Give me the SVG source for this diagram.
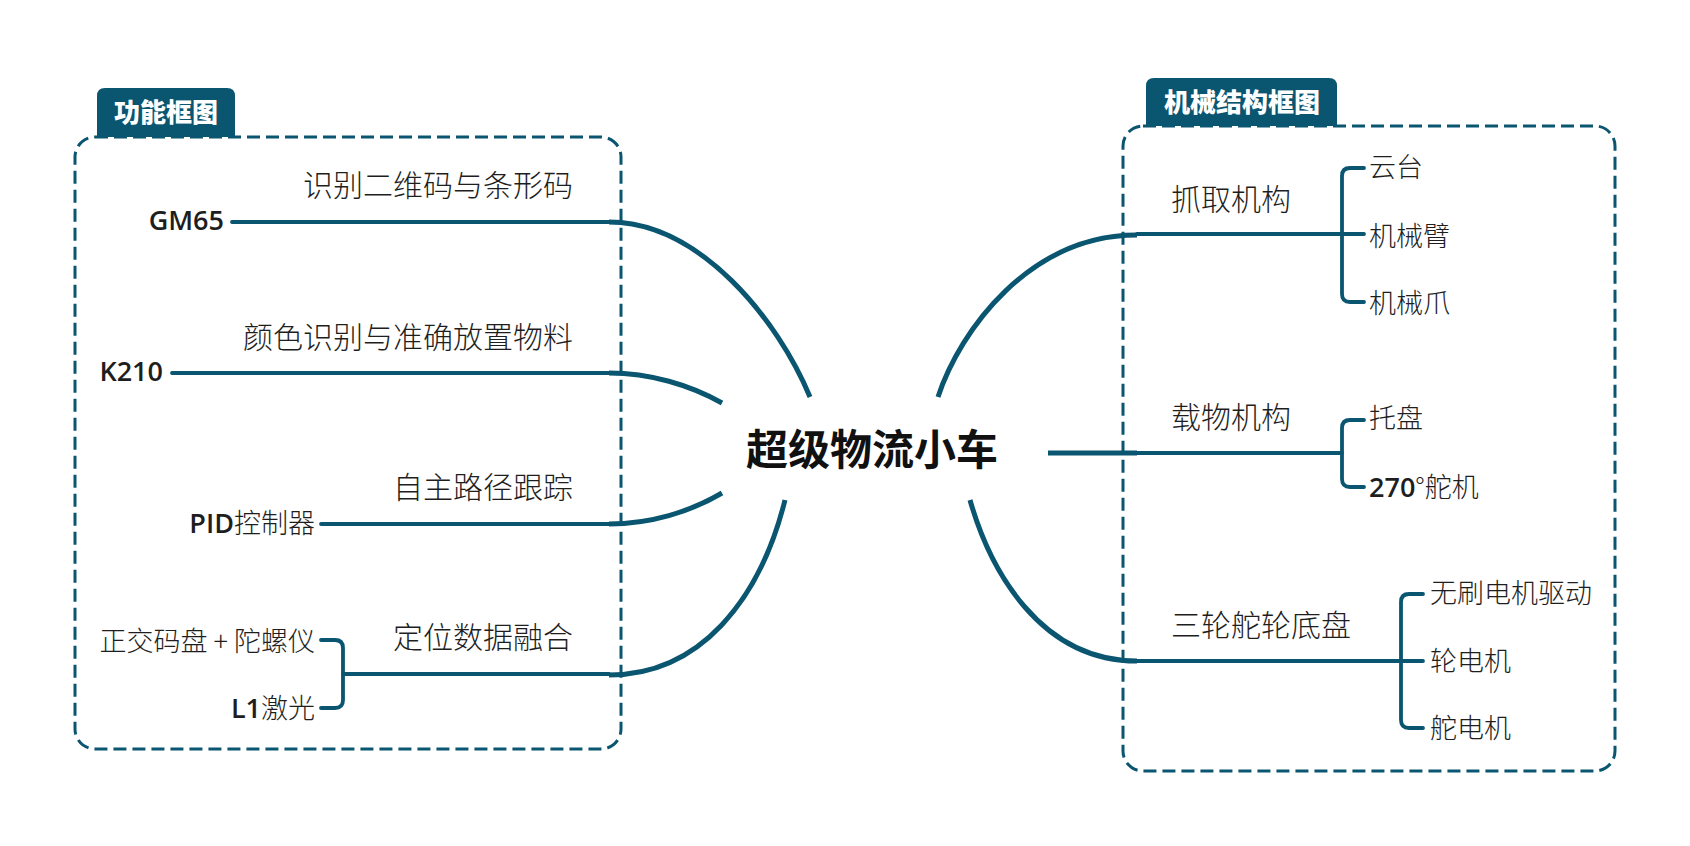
<svg xmlns="http://www.w3.org/2000/svg" width="1690" height="846" viewBox="0 0 1690 846">
<style>
.frame{fill:none;stroke:#0a5570;stroke-width:3;stroke-dasharray:13 6}
.tab{fill:#0a5570}
.tabt{font-family:"Noto Sans CJK SC",sans-serif;font-weight:900;font-size:26px;fill:#ffffff}
.ln{fill:none;stroke:#0a5570;stroke-width:3.8;stroke-linecap:round;stroke-linejoin:round}
.cv{fill:none;stroke:#0a5570;stroke-width:5;stroke-linecap:butt}
.lab{font-family:"Noto Sans CJK SC",sans-serif;font-weight:300;font-size:30px;fill:#1e1e1e}
.leaf{font-family:"Noto Sans CJK SC",sans-serif;font-weight:300;font-size:27px;fill:#1e1e1e}
.lat{font-family:"Open Sans","Noto Sans CJK SC",sans-serif;font-weight:600}
.ctr{font-family:"Noto Sans CJK SC",sans-serif;font-weight:700;font-size:42px;fill:#111111}
</style>
<rect width="1690" height="846" fill="#ffffff"/>
<g id="frame-left">
<rect class="frame" x="75" y="137" width="546" height="612" rx="20"/>
<path class="tab" d="M97,137 V96 Q97,88 105,88 H227 Q235,88 235,96 V137 Z"/>
<text class="tabt" x="166" y="122" text-anchor="middle">功能框图</text>
</g>
<g id="frame-right">
<rect class="frame" x="1123" y="126" width="492" height="645" rx="20"/>
<path class="tab" d="M1146,126 V86 Q1146,78 1154,78 H1329 Q1337,78 1337,86 V126 Z"/>
<text class="tabt" x="1242" y="112" text-anchor="middle">机械结构框图</text>
</g>
<g id="connectors">
<path class="cv" d="M609,222 C700,222 778,320 810,397"/>
<path class="cv" d="M609,373 C650,373 690,385 722,403"/>
<path class="cv" d="M609,524 C650,524 690,512 722,493"/>
<path class="cv" d="M609,675 C700,675 760,600 785,500"/>
<path class="cv" d="M938,397 C960,330 1030,235 1137,235"/>
<path class="cv" d="M1048,453 L1137,453"/>
<path class="cv" d="M970,500 C990,570 1040,661 1137,661"/>
<path class="ln" d="M232,222 H609"/>
<path class="ln" d="M172,373 H609"/>
<path class="ln" d="M321,524 H609"/>
<path class="ln" d="M343,674 H609"/>
<path class="ln" d="M321,640 H335 Q343,640 343,648 V700 Q343,708 335,708 H321"/>
<path class="ln" d="M1137,234 H1364"/>
<path class="ln" d="M1364,168 H1350 Q1342,168 1342,176 V294 Q1342,302 1350,302 H1364"/>
<path class="ln" d="M1137,453 H1342"/>
<path class="ln" d="M1364,420 H1350 Q1342,420 1342,428 V479 Q1342,487 1350,487 H1364"/>
<path class="ln" d="M1137,661 H1423"/>
<path class="ln" d="M1423,594 H1409 Q1401,594 1401,602 V720 Q1401,728 1409,728 H1423"/>
</g>
<g id="center"><text class="ctr" x="872" y="465" text-anchor="middle">超级物流小车</text></g>
<g id="b-gm65">
<text class="lab" x="573" y="196" text-anchor="end">识别二维码与条形码</text>
<text class="leaf lat" x="224" y="230" text-anchor="end">GM65</text>
</g>
<g id="b-k210">
<text class="lab" x="573" y="348" text-anchor="end">颜色识别与准确放置物料</text>
<text class="leaf lat" x="163" y="381" text-anchor="end">K210</text>
</g>
<g id="b-pid">
<text class="lab" x="573" y="498" text-anchor="end">自主路径跟踪</text>
<text class="leaf" x="315" y="533" text-anchor="end"><tspan class="lat">PID</tspan>控制器</text>
</g>
<g id="b-fusion">
<text class="lab" x="573" y="648" text-anchor="end">定位数据融合</text>
<text class="leaf" x="315" y="651" text-anchor="end">正交码盘 + 陀螺仪</text>
<text class="leaf" x="315" y="718" text-anchor="end"><tspan class="lat">L1</tspan>激光</text>
</g>
<g id="b-grab">
<text class="lab" x="1171" y="210">抓取机构</text>
<text class="leaf" x="1369" y="177">云台</text>
<text class="leaf" x="1369" y="246">机械臂</text>
<text class="leaf" x="1369" y="313">机械爪</text>
</g>
<g id="b-load">
<text class="lab" x="1171" y="428">载物机构</text>
<text class="leaf" x="1369" y="428">托盘</text>
<text class="leaf" x="1369" y="497"><tspan class="lat">270</tspan>°舵机</text>
</g>
<g id="b-chassis">
<text class="lab" x="1171" y="636">三轮舵轮底盘</text>
<text class="leaf" x="1430" y="603">无刷电机驱动</text>
<text class="leaf" x="1430" y="671">轮电机</text>
<text class="leaf" x="1430" y="738">舵电机</text>
</g>
</svg>
